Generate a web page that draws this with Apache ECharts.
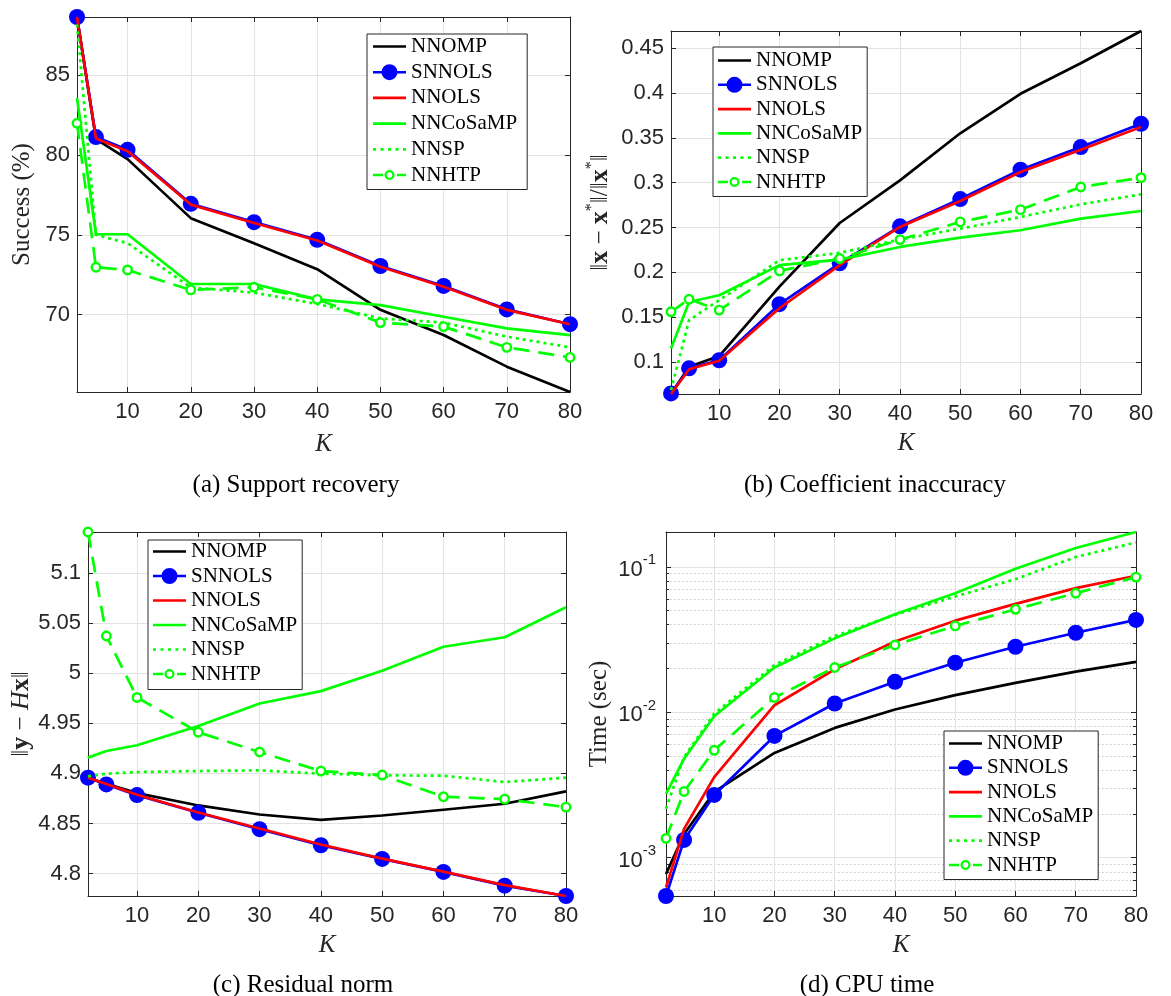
<!DOCTYPE html>
<html>
<head>
<meta charset="utf-8">
<title>Nonnegative sparse solvers vs K</title>
<script src="https://cdn.jsdelivr.net/npm/echarts@6/dist/echarts.min.js"></script>
<style>
  html, body { margin: 0; padding: 0; background: #fff; }
  #chart { width: 1171px; height: 996px; }
</style>
</head>
<body>
<div id="chart"></div>
<script>
// sparsity level on every x axis
var K = [2, 5, 10, 20, 30, 40, 50, 60, 70, 80]
var kTicks = [10, 20, 30, 40, 50, 60, 70, 80]
var methods = ['NNOMP', 'SNNOLS', 'NNOLS', 'NNCoSaMP', 'NNSP', 'NNHTP']

// (a) support recovery, success in %
var successNNOMP = [88.66, 81.0, 79.75, 76.05, 74.48, 72.85, 70.3, 68.72, 66.74, 65.15]
var successSNNOLS = [88.66, 81.13, 80.33, 76.95, 75.8, 74.69, 73.05, 71.8, 70.33, 69.4]
var successNNOLS = [88.66, 81.05, 80.25, 76.9, 75.75, 74.65, 73.0, 71.75, 70.3, 69.4]
var successNNCoSaMP = [83.58, 75.04, 75.04, 71.92, 71.92, 70.96, 70.6, 69.87, 69.14, 68.72]
var successNNSP = [88.2, 75.0, 74.48, 71.7, 71.38, 70.67, 69.77, 69.5, 68.62, 67.95]
var successNNHTP = [82.0, 72.97, 72.8, 71.55, 71.72, 70.96, 69.5, 69.25, 67.95, 67.32]
var successTicks = [70, 75, 80, 85]

// (b) coefficient inaccuracy ||x - x*|| / ||x*||
var coefNNOMP = [0.0644, 0.0948, 0.1067, 0.184, 0.255, 0.3025, 0.355, 0.399, 0.433, 0.469]
var coefSNNOLS = [0.065, 0.093, 0.102, 0.1645, 0.21, 0.2513, 0.2817, 0.3144, 0.3396, 0.3656]
var coefNNOLS = [0.0644, 0.092, 0.1015, 0.16, 0.208, 0.2506, 0.2795, 0.3118, 0.3367, 0.362]
var coefNNCoSaMP = [0.115, 0.167, 0.1745, 0.208, 0.2142, 0.2283, 0.2387, 0.2469, 0.2599, 0.2684]
var coefNNSP = [0.0688, 0.1467, 0.169, 0.2135, 0.2217, 0.2365, 0.2487, 0.2617, 0.2758, 0.287]
var coefNNHTP = [0.156, 0.17, 0.1579, 0.2016, 0.2154, 0.2365, 0.2562, 0.2699, 0.2951, 0.3055]
var coefTicks = [0.1, 0.15, 0.2, 0.25, 0.3, 0.35, 0.4, 0.45]

// (c) residual norm ||y - Hx||
var residNNOMP = [4.8957, 4.8897, 4.8803, 4.868, 4.859, 4.8537, 4.858, 4.8637, 4.8697, 4.882]
var residSNNOLS = [4.8957, 4.889, 4.8783, 4.8607, 4.8443, 4.8283, 4.8147, 4.8017, 4.788, 4.7777]
var residNNOLS = [4.8957, 4.8893, 4.8787, 4.861, 4.845, 4.829, 4.815, 4.802, 4.7885, 4.7777]
var residNNCoSaMP = [4.9157, 4.9223, 4.928, 4.9473, 4.9697, 4.982, 5.0023, 5.0263, 5.0357, 5.0657]
var residNNSP = [4.897, 4.8997, 4.9013, 4.9023, 4.903, 4.8997, 4.898, 4.8977, 4.8913, 4.8957]
var residNNHTP = [5.1407, 5.037, 4.9757, 4.941, 4.9213, 4.9023, 4.8983, 4.8767, 4.8743, 4.8663]
var residTicks = [4.8, 4.85, 4.9, 4.95, 5, 5.05, 5.1]

// (d) CPU time in seconds (log scale)
var timeNNOMP = [0.000772, 0.001455, 0.00283, 0.00525, 0.0078, 0.01043, 0.0131, 0.0159, 0.019, 0.0222]
var timeSNNOLS = [0.000545, 0.001324, 0.0027, 0.00687, 0.01148, 0.01619, 0.0219, 0.0282, 0.0352, 0.0431]
var timeNNOLS = [0.000624, 0.001578, 0.00358, 0.01117, 0.0197, 0.0306, 0.0426, 0.0556, 0.0713, 0.0867]
var timeNNCoSaMP = [0.00275, 0.00479, 0.00938, 0.0203, 0.0322, 0.0472, 0.0658, 0.0969, 0.1345, 0.1734]
var timeNNSP = [0.00217, 0.00492, 0.00979, 0.0211, 0.0334, 0.0467, 0.0624, 0.0822, 0.1167, 0.147]
var timeNNHTP = [0.001358, 0.00285, 0.00547, 0.01262, 0.0203, 0.029, 0.0392, 0.051, 0.0658, 0.0849]
var timeTicks = [0.001, 0.01, 0.1]

var SERIF = "'Liberation Serif', 'DejaVu Serif', serif"
var SANS = "'Liberation Sans', Arial, sans-serif"
var AX = '#262626'
var GRIDC = '#e3e3e3'
var LW = 2.7

var lineLook = {
  NNOMP: { color: '#000000', type: 'solid' },
  SNNOLS: { color: '#0000ff', type: 'solid' },
  NNOLS: { color: '#ff0000', type: 'solid' },
  NNCoSaMP: { color: '#00ff00', type: 'solid' },
  NNSP: { color: '#00ff00', type: [3, 4] },
  NNHTP: { color: '#00ff00', type: [16, 9] }
}

// legend glyphs (line, line with dot, dotted, dashed with ring), 33px wide
var legendIcons = {
  NNOMP: 'path://M0 0H33V2.7H0Z',
  SNNOLS: 'path://M0 6.7H33V9.3H0Z M8.5 8A8 8 0 1 1 24.5 8A8 8 0 1 1 8.5 8Z',
  NNOLS: 'path://M0 0H33V2.7H0Z',
  NNCoSaMP: 'path://M0 0H33V2.7H0Z',
  NNSP: 'path://M0 0H3V2.7H0Z M7.5 0H10.5V2.7H7.5Z M15 0H18V2.7H15Z M22.5 0H25.5V2.7H22.5Z M30 0H33V2.7H30Z',
  NNHTP: 'path://M0 3.7H10V6.3H0Z M24 3.7H33V6.3H24Z M11.5 5A5 5 0 1 1 21.5 5A5 5 0 1 1 11.5 5Z M13.7 5A2.8 2.8 0 1 0 19.3 5A2.8 2.8 0 1 0 13.7 5Z'
}

var panels = [
  {
    rows: [successNNOMP, successSNNOLS, successNNOLS, successNNCoSaMP, successNNSP, successNNHTP],
    ticks: successTicks, log: false,
    grid: { left: 77, top: 17, width: 493, height: 375 },
    yName: 'Success (%)', yGap: 42, kGap: 40,
    legend: { left: 367, top: 34, gap: 4.7, pad: [2, 10, 4, 6] },
    caption: '(a) Support recovery', cap: [296, 485]
  },
  {
    rows: [coefNNOMP, coefSNNOLS, coefNNOLS, coefNNCoSaMP, coefNNSP, coefNNHTP],
    ticks: coefTicks, log: false,
    grid: { left: 671, top: 31, width: 470, height: 363 },
    yName: '‖{b|x} − {b|x}{s|*}‖/‖{b|x}{s|*}‖', yGap: 54, kGap: 37,
    legend: { left: 713, top: 47, gap: 3.3, pad: [3, 5, 4, 5] },
    caption: '(b) Coefficient inaccuracy', cap: [875, 485]
  },
  {
    rows: [residNNOMP, residSNNOLS, residNNOLS, residNNCoSaMP, residNNSP, residNNHTP],
    ticks: residTicks, log: false,
    grid: { left: 88, top: 532, width: 478, height: 364 },
    yName: '‖{b|y} − {i|H}{b|x}‖', yGap: 53, kGap: 37,
    legend: { left: 148, top: 540, gap: 3.5, pad: [1, 5, 5, 5] },
    caption: '(c) Residual norm', cap: [303, 985]
  },
  {
    rows: [timeNNOMP, timeSNNOLS, timeNNOLS, timeNNCoSaMP, timeNNSP, timeNNHTP],
    ticks: timeTicks, log: true,
    grid: { left: 666, top: 532, width: 470, height: 364 },
    yName: 'Time (sec)', yGap: 54, kGap: 37,
    legend: { left: 944, top: 731, gap: 3.3, pad: [2, 5, 4, 5] },
    caption: '(d) CPU time', cap: [867, 985]
  }
]

var nameRich = {
  b: { fontFamily: SERIF, fontWeight: 'bold', fontSize: 26, color: AX },
  i: { fontFamily: SERIF, fontStyle: 'italic', fontSize: 26, color: AX },
  s: { fontFamily: SERIF, fontSize: 16, color: AX, verticalAlign: 'top', padding: [0, 0, 17, 0] }
}

function legendItems() {
  return methods.map(function (m) {
    return { name: m, icon: legendIcons[m], itemStyle: { color: lineLook[m].color, borderWidth: 0 } }
  })
}

function tightRange(rows) {
  var all = [].concat.apply([], rows)
  return [Math.min.apply(null, all), Math.max.apply(null, all)]
}

// dotted minor grid values for the log panel
var minorTime = []
for (var e = -4; e <= -1; e++) {
  for (var m = 2; m <= 9; m++) minorTime.push(m * Math.pow(10, e))
}

var grids = [], xAxes = [], yAxes = [], series = [], legends = [], captions = []

panels.forEach(function (p, i) {
  var range = tightRange(p.rows)
  grids.push(Object.assign({ outerBoundsMode: 'none', containLabel: false }, p.grid))

  ;['bottom', 'top'].forEach(function (pos) {
    var main = pos === 'bottom'
    xAxes.push({
      gridIndex: i, type: 'value', position: pos, min: 2, max: 80,
      axisLine: { show: true, onZero: false, lineStyle: { color: AX, width: 1 } },
      axisTick: { show: true, inside: true, length: 5, customValues: kTicks, lineStyle: { color: AX } },
      axisLabel: { show: main, customValues: kTicks, margin: 9, fontFamily: SANS, fontSize: 22, color: AX },
      splitLine: { show: main, lineStyle: { color: GRIDC, width: 1 } },
      name: main ? 'K' : '', nameLocation: 'middle', nameGap: p.kGap,
      nameTextStyle: { fontFamily: SERIF, fontStyle: 'italic', fontSize: 25, color: AX },
      silent: true
    })
  })

  ;['left', 'right'].forEach(function (pos) {
    var main = pos === 'left'
    var ax = {
      gridIndex: i, type: p.log ? 'log' : 'value', position: pos, min: range[0], max: range[1],
      axisLine: { show: true, onZero: false, lineStyle: { color: AX, width: 1 } },
      axisTick: { show: true, inside: true, length: 5, customValues: p.ticks, lineStyle: { color: AX } },
      axisLabel: { show: main, customValues: p.ticks, margin: p.log ? 10 : 7, fontFamily: SANS, fontSize: 22, color: AX },
      splitLine: { show: main, lineStyle: { color: GRIDC, width: 1 } },
      name: main ? p.yName : '', nameLocation: 'middle', nameGap: p.yGap,
      nameTextStyle: { fontFamily: SERIF, fontSize: 25, color: AX, rich: nameRich },
      silent: true
    }
    if (p.log) {
      ax.logBase = 10
      ax.axisLabel.formatter = function (v) {
        return '{n|10}{e|' + Math.round(Math.log10(v)) + '}'
      }
      ax.axisLabel.rich = {
        n: { fontFamily: SANS, fontSize: 22, color: AX, verticalAlign: 'bottom' },
        e: { fontFamily: SANS, fontSize: 15, color: AX, verticalAlign: 'top', padding: [0, 0, 13, 0] }
      }
    }
    yAxes.push(ax)
  })

  p.rows.forEach(function (vals, j) {
    var name = methods[j]
    var look = lineLook[name]
    var s = {
      name: name, type: 'line', xAxisIndex: 2 * i, yAxisIndex: 2 * i,
      data: K.map(function (k, n) { return [k, vals[n]] }),
      symbol: 'none',
      lineStyle: { color: look.color, width: LW, type: look.type, cap: 'butt', join: 'round' },
      itemStyle: { color: look.color },
      clip: false, silent: true, animation: false, z: 3 + j
    }
    if (name === 'SNNOLS') {
      s.symbol = 'circle'
      s.symbolSize = 16
    }
    if (name === 'NNHTP') {
      s.symbol = 'circle'
      s.symbolSize = 8.5
      s.itemStyle = { color: '#ffffff', borderColor: look.color, borderWidth: 2.4 }
    }
    series.push(s)
  })

  legends.push({
    orient: 'vertical', left: p.legend.left, top: p.legend.top,
    itemWidth: 33, itemHeight: 16, itemGap: p.legend.gap, padding: p.legend.pad,
    borderColor: AX, borderWidth: 1, backgroundColor: '#ffffff',
    textStyle: { fontFamily: SERIF, fontSize: 21, color: '#000' },
    lineStyle: { width: LW },
    selectedMode: false, z: 20,
    data: legendItems()
  })

  captions.push({
    type: 'text', x: p.cap[0], y: p.cap[1],
    style: { text: p.caption, font: '25px ' + SERIF, fill: '#000', textAlign: 'center', textVerticalAlign: 'middle' }
  })
})

// minor decade ticks and dotted minor grid for the CPU time panel
var tRange = tightRange(panels[3].rows)
var tMinor = minorTime.filter(function (v) { return v >= tRange[0] && v <= tRange[1] })
;['left', 'right'].forEach(function (pos) {
  yAxes.push({
    gridIndex: 3, type: 'log', logBase: 10, position: pos, min: tRange[0], max: tRange[1],
    axisLine: { show: false },
    axisTick: { show: true, inside: true, length: 3, customValues: tMinor, lineStyle: { color: AX } },
    axisLabel: { show: false },
    splitLine: { show: pos === 'left', lineStyle: { color: '#c4c4c4', width: 1, type: [1.5, 2.5] } },
    silent: true
  })
})

var chart = echarts.init(document.getElementById('chart'), null, { renderer: 'canvas' })
chart.setOption({
  backgroundColor: '#ffffff',
  animation: false,
  grid: grids,
  xAxis: xAxes,
  yAxis: yAxes,
  legend: legends,
  series: series,
  graphic: captions
})
</script>
</body>
</html>
